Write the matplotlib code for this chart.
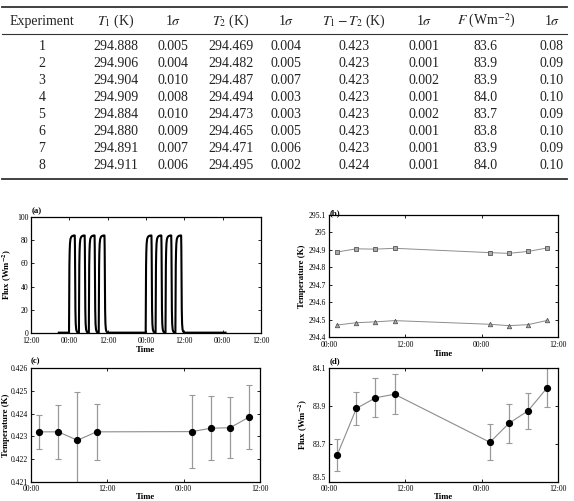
import matplotlib
matplotlib.use("Agg")
import matplotlib.pyplot as plt
from matplotlib.lines import Line2D

plt.rcParams['font.family'] = ['Liberation Serif', 'DejaVu Serif']
plt.rcParams['mathtext.fontset'] = 'stix'

# --- table data ---
experiment = [1, 2, 3, 4, 5, 6, 7, 8]
t1 = [294.888, 294.906, 294.904, 294.909, 294.884, 294.880, 294.891, 294.911]
t1_err = [0.005, 0.004, 0.010, 0.008, 0.010, 0.009, 0.007, 0.006]
t2 = [294.469, 294.482, 294.487, 294.494, 294.473, 294.465, 294.471, 294.495]
t2_err = [0.004, 0.005, 0.007, 0.003, 0.003, 0.005, 0.006, 0.002]
dt = [0.423, 0.423, 0.423, 0.423, 0.423, 0.423, 0.423, 0.424]
dt_err = [0.001, 0.001, 0.002, 0.001, 0.002, 0.001, 0.001, 0.001]
flux = [83.6, 83.9, 83.9, 84.0, 83.7, 83.8, 83.9, 84.0]
flux_err = [0.08, 0.09, 0.10, 0.10, 0.09, 0.10, 0.09, 0.10]
headers = ['Experiment', r'$T_1$ (K)', r'1$\sigma$', r'$T_2$ (K)', r'1$\sigma$',
           r'$T_1 - T_2$ (K)', r'1$\sigma$', r'$F$ (Wm$^{-2}$)', r'1$\sigma$']

# --- plotted values (hours after 00:00 of first day) ---
meas_time = [1.3, 4.3, 7.3, 10.3, 25.3, 28.3, 31.3, 34.3]
plot_dt = [0.42320, 0.42320, 0.42283, 0.42320, 0.42321, 0.42336, 0.42338, 0.42385]
plot_dt_err = [0.00074, 0.00118, 0.00210, 0.00123, 0.00160, 0.00140, 0.00133, 0.00140]
plot_flux = [83.643, 83.887, 83.943, 83.962, 83.709, 83.809, 83.875, 83.996]
plot_flux_err = [0.083, 0.087, 0.102, 0.105, 0.094, 0.102, 0.096, 0.102]

# flux trace in panel (a): hours after 12:00 of day 0
trace_start, trace_end = 8.7, 60.9
pulse_start = [11.9, 15.0, 18.1, 21.2, 35.9, 39.0, 42.1, 45.2]
pulse_dt = [0, 0.05, 0.12, 0.2, 0.3, 0.45, 0.7, 1.0, 1.4, 1.8, 1.86, 1.92, 2.0, 2.1, 2.25, 2.45, 2.7, 3.0]
pulse_f = [0.3, 30, 58, 70, 77, 81, 82.8, 83.6, 84.0, 84.1, 74, 45, 20, 8, 3, 1.2, 0.5, 0.3]

ticks_a = [0, 12, 24, 36, 48, 60, 72]
ticklabels_a = ['12:00', '00:00', '12:00', '00:00', '12:00', '00:00', '12:00']
ticks_b = [0, 12, 24, 36]
ticklabels_b = ['00:00', '12:00', '00:00', '12:00']

W, H = 574, 501
fig = plt.figure(figsize=(W / 100, H / 100), dpi=100)

def fx(x):
    return x / W

def fy(y):
    return 1 - y / H

# ---- table ----
tc = '#222222'
col_x = [42, 116, 173, 231, 286, 354, 424, 486, 552]
for x, h in zip(col_x, headers):
    fig.text(fx(x), fy(21), h, ha='center', va='center', fontsize=10, color=tc)
for i in range(len(experiment)):
    y = 47 + 16.9 * i
    row = [str(experiment[i]), f'{t1[i]:.3f}', f'{t1_err[i]:.3f}', f'{t2[i]:.3f}',
           f'{t2_err[i]:.3f}', f'{dt[i]:.3f}', f'{dt_err[i]:.3f}', f'{flux[i]:.1f}',
           f'{flux_err[i]:.2f}']
    for x, s in zip(col_x, row):
        fig.text(fx(x), fy(y), s, ha='center', va='center', fontsize=10, color=tc)
for y, lw in [(7, 1.3), (33.5, 0.8), (179, 1.3)]:
    fig.add_artist(Line2D([fx(2), fx(567)], [fy(y), fy(y)], color='#333333', lw=lw))

# ---- panels ----
def box(l, r, t, b):
    return [fx(l), fy(b), fx(r) - fx(l), fy(t) - fy(b)]

ax_a = fig.add_axes(box(31, 261, 217, 333))
ax_b = fig.add_axes(box(329, 558, 215, 337))
ax_c = fig.add_axes(box(31, 260, 368, 482))
ax_d = fig.add_axes(box(329, 558, 368, 482))

lab = dict(fontsize=6.3, fontweight='bold')
for ax in (ax_a, ax_b, ax_c, ax_d):
    ax.tick_params(direction='in', top=True, right=True, length=2.5, width=0.6,
                   labelsize=5.5, pad=2)
    for sp in ax.spines.values():
        sp.set_linewidth(0.9)
for ax in (ax_a, ax_b):
    ax.tick_params(axis='x', pad=3)
    ax.set_xlabel('Time', labelpad=0.5, **lab)
for ax in (ax_c, ax_d):
    ax.tick_params(axis='x', pad=2)
    ax.set_xlabel('Time', labelpad=0, **lab)

# (a)
tt, ff = [trace_start], [0.3]
for s in pulse_start:
    tt += [s + d for d in pulse_dt]
    ff += pulse_f
tt.append(trace_end)
ff.append(0.3)
ax_a.plot(tt, ff, color='black', lw=1.5, solid_joinstyle='round')
ax_a.set_xlim(0, 72)
ax_a.set_ylim(0, 100)
ax_a.set_xticks(ticks_a, ticklabels_a)
ax_a.set_yticks([0, 20, 40, 60, 80, 100])
ax_a.set_ylabel(r'Flux (Wm$^{\mathbf{-2}}$)', labelpad=2, **lab)

# (b)
gline = '#8c8c8c'
ax_b.errorbar(meas_time, t1, yerr=t1_err, color=gline, lw=0.7, marker='s', ms=3,
              mfc='#aaaaaa', mec='#555555', mew=0.6, capsize=1)
ax_b.errorbar(meas_time, t2, yerr=t2_err, color=gline, lw=0.7, marker='^', ms=3.2,
              mfc='#aaaaaa', mec='#555555', mew=0.6, capsize=1)
ax_b.set_xlim(0, 36)
ax_b.set_ylim(294.4, 295.1)
ax_b.set_xticks(ticks_b, ticklabels_b)
ax_b.set_yticks([294.4, 294.5, 294.6, 294.7, 294.8, 294.9, 295.0, 295.1],
                ['294.4', '294.5', '294.6', '294.7', '294.8', '294.9', '295', '295.1'])
ax_b.set_ylabel('Temperature (K)', labelpad=2, **lab)

# (c)
ax_c.errorbar(meas_time, plot_dt, yerr=plot_dt_err, color=gline, lw=0.8, ecolor='#999999',
              elinewidth=0.9, capsize=2.2, capthick=0.8, marker='o', ms=4.2,
              mfc='black', mec='black')
ax_c.set_xlim(0, 36)
ax_c.set_ylim(0.421, 0.426)
ax_c.set_xticks(ticks_b, ticklabels_b)
ax_c.set_yticks([0.421, 0.422, 0.423, 0.424, 0.425, 0.426])
ax_c.set_ylabel('Temperature (K)', labelpad=1, **lab)

# (d)
ax_d.errorbar(meas_time, plot_flux, yerr=plot_flux_err, color=gline, lw=0.8, ecolor='#999999',
              elinewidth=0.9, capsize=2.2, capthick=0.8, marker='o', ms=4.2,
              mfc='black', mec='black')
ax_d.set_xlim(0, 36)
ax_d.set_ylim(83.5, 84.1)
ax_d.set_xticks(ticks_b, ticklabels_b)
ax_d.set_yticks([83.5, 83.7, 83.9, 84.1])
ax_d.get_yticklabels()[0].set_va('bottom')
ax_d.set_ylabel(r'Flux (Wm$^{\mathbf{-2}}$)', labelpad=2, **lab)

for x, y, s in [(32, 211, '(a)'), (330, 213, '(b)'), (31, 361, '(c)'), (330, 361, '(d)')]:
    fig.text(fx(x), fy(y), s, ha='left', va='center', **lab)

fig.savefig('out.png', dpi=100)
